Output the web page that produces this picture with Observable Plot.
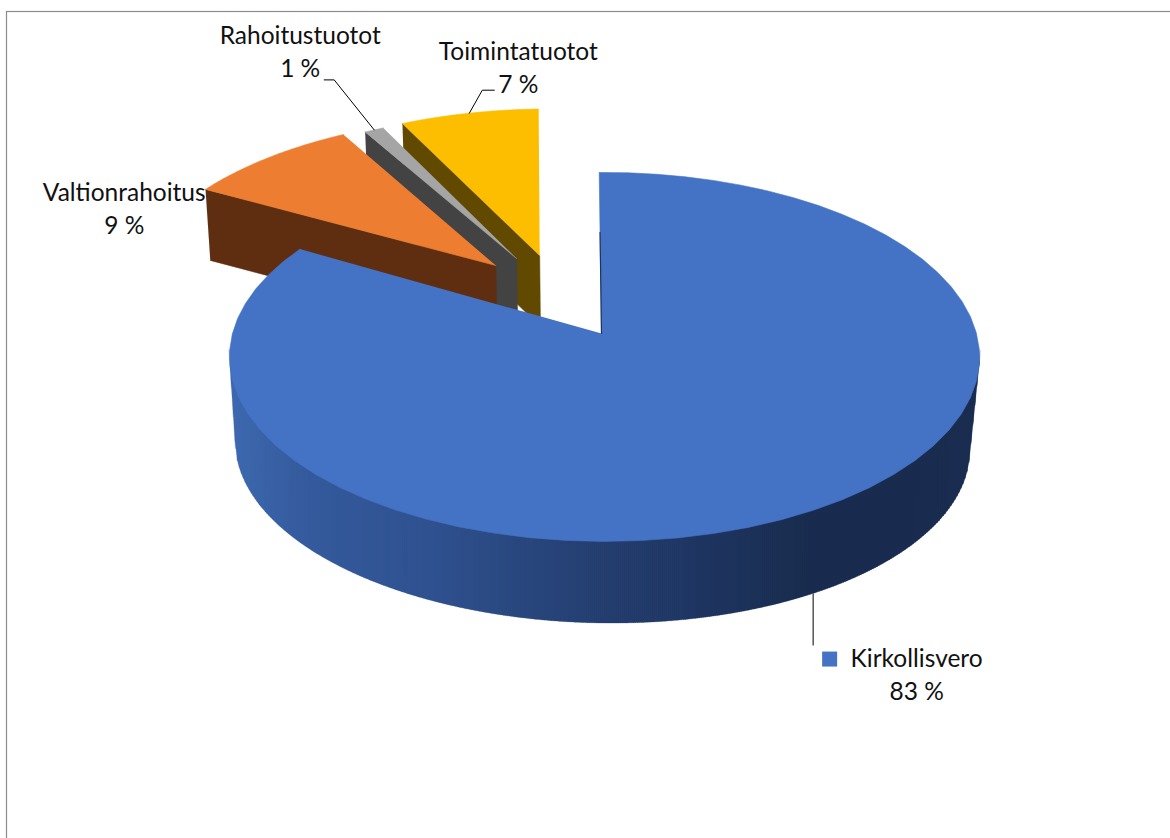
<!DOCTYPE html>
<html><head><meta charset="utf-8">
<style>html,body{margin:0;padding:0;background:#fff}svg{display:block;max-width:none!important}</style>
<script src="https://cdn.jsdelivr.net/npm/d3@7"></script>
<script src="https://cdn.jsdelivr.net/npm/@observablehq/plot@0.6"></script>
</head><body><div id="chart"></div>
<script>
const categories = ["Kirkollisvero", "Valtionrahoitus", "Rahoitustuotot", "Toimintatuotot"];
const values = [83.4, 8.6, 1.0, 7.0];
const percentLabels = [83, 9, 1, 7];
const topColors = ["#4472c4", "#ed7d31", "#a5a5a5", "#fdbe00"];
const faceColors = ["#1c3560", "#5f2e10", "#434343", "#614a00"];
const explodeU = [0, -0.299, -0.241, -0.176];
const explodeV = [0, 0.394, 0.436, 0.455];
const twist = [0, -0.8, -1.0, -1.0];
const radius = [1, 1.025, 1, 1.015];
const wallStops = [229, 300, 430, 600, 700, 800, 980];
const wallColors = ["#3e69b0", "#365c9f", "#2f5290", "#253f70", "#1f3662", "#1a2d50", "#1a2d50"];

// projection of the tilted disc
const P = {cx: 601, cy: 333, b: 372, a: 181.5, k: 0.127, m: -0.008, rot: -0.4};
const rad = d => d * Math.PI / 180;
function project(u, v) {
  const w = 1 + P.k * v + P.m * u;
  return {x: P.cx + P.b * u / w, y: P.cy - P.a * v / w};
}
const total = d3.sum(values);
const cum = d3.cumsum(values);
const startDeg = i => P.rot + (i ? cum[i - 1] : 0) / total * 360;
const endDeg = i => P.rot + cum[i] / total * 360;
function rim(i, deg) {
  const t = rad(deg + twist[i]);
  return project(explodeU[i] + radius[i] * Math.sin(t), explodeV[i] + radius[i] * Math.cos(t));
}
const apex = i => project(explodeU[i], explodeV[i]);
function topPolygon(i) {
  const a0 = startDeg(i), a1 = endDeg(i);
  return [apex(i), ...d3.range(0, 61).map(j => rim(i, a0 + (a1 - a0) * j / 60))];
}
const depth = p => ({x: P.cx + (p.x - P.cx) * 0.988, y: p.y + 71});
function facePolygon(i) {
  const c = rim(i, startDeg(i)), a = apex(i);
  return [c, a, depth(a), depth(c)];
}
const polygon = (pts, color) => Plot.line(pts, {x: "x", y: "y", fill: color, stroke: color, strokeWidth: 0.6});

// front wall of the big slice
const topFront = x => 356 + 184 * Math.sqrt(Math.max(0, 1 - ((x - 604.5) / 375.5) ** 2));
function botFront(x) {
  if (x < 235) return 352 + (x - 229) / 6 * 89;
  if (x > 970) return 357 + (980 - x) / 10 * 96;
  return 445 + 178 * Math.sqrt(Math.max(0, 1 - ((x - 602.5) / 367.5) ** 2)) + 0.012 * (x - 602.5);
}
const wallColor = d3.scaleLinear().domain(wallStops).range(wallColors);
const wall = d3.range(229, 980, 2).flatMap(x0 => {
  const c = wallColor(x0 + 1);
  return [x0, Math.min(x0 + 2.4, 980)].map(x => ({x, y1: topFront(x) - 6, y2: botFront(x), z: x0, c}));
});

// labels
const midRim = i => rim(i, (startDeg(i) + endDeg(i)) / 2);
const midBottom = i => {
  const t = rad((startDeg(i) + endDeg(i)) / 2);
  const xp = project(Math.sin(t), Math.cos(t)).x;
  return {x: xp, y: botFront(xp)};
};
const anchors = [midBottom(0), midRim(1), midRim(2), midRim(3)];
const labelDx = [103.5, -144, -74, 49];
const labelDy = [78.5, 49, -80, -47];
const leaders = [
  [[0, 0], [0, 51]],
  null,
  [[0, 0], [-40, -50], [-50, -50]],
  [[0, 0], [13, -23], [25, -23]]
];
const labelFont = {fontFamily: "Lato, 'Noto Sans', sans-serif", fontSize: 24.5, lineHeight: 1.35, fill: "#111"};

const marks = [
  Plot.frame({insetLeft: 6, insetTop: 11, insetRight: -6, insetBottom: -6, stroke: "#8c8c8c", strokeWidth: 1.2}),
];
for (const i of [3, 2, 1]) marks.push(polygon(facePolygon(i), faceColors[i]), polygon(topPolygon(i), topColors[i]));
marks.push(
  Plot.areaY(wall, {x: "x", y1: "y1", y2: "y2", z: "z", fill: "c", stroke: "c", strokeWidth: 0.2}),
  polygon(topPolygon(0), topColors[0]),
  Plot.line([project(0.6 * Math.sin(rad(P.rot)), 0.6), apex(0)], {x: "x", y: "y", stroke: faceColors[0], strokeWidth: 1.2})
);
leaders.forEach((l, i) => {
  if (l) marks.push(Plot.line(l.map(([dx, dy]) => ({x: anchors[i].x + dx, y: anchors[i].y + dy})), {x: "x", y: "y", stroke: "#000", strokeWidth: 1}));
});
categories.forEach((c, i) => {
  marks.push(Plot.text([anchors[i]], {x: "x", y: "y", text: () => `${c}\n${percentLabels[i]} %`, dx: labelDx[i], dy: labelDy[i], textAnchor: "middle", ...labelFont}));
});
marks.push(Plot.dot([anchors[0]], {x: "x", y: "y", dx: 16.5, dy: 65, symbol: "square", r: 8.46, fill: topColors[0], stroke: "none"}));

const chart = Plot.plot({
  width: 1170, height: 838, margin: 0,
  x: {domain: [0, 1170], range: [0, 1170], axis: null},
  y: {domain: [0, 838], range: [0, 838], axis: null},
  color: {type: "identity"},
  style: {background: "#fff"},
  marks
});
document.getElementById("chart").append(chart);
</script></body></html>
